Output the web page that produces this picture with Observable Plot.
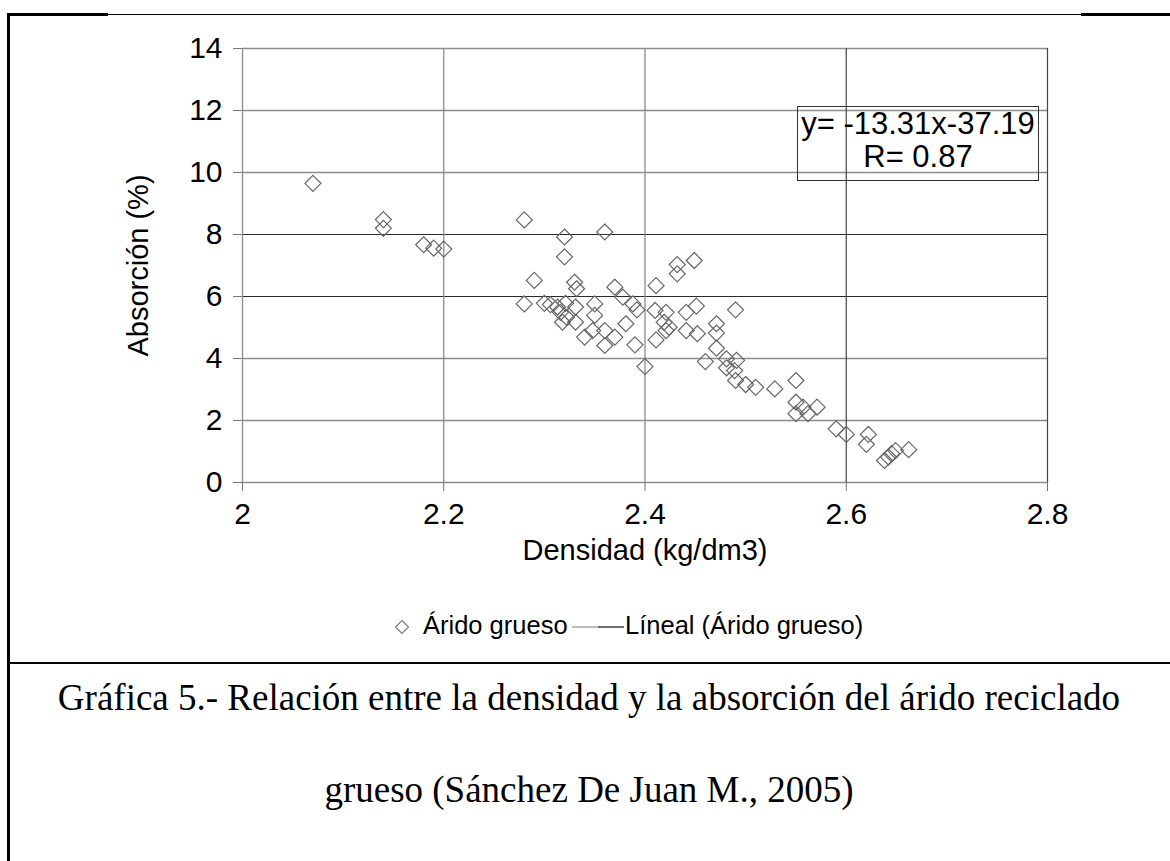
<!DOCTYPE html>
<html>
<head>
<meta charset="utf-8">
<script src="https://cdn.jsdelivr.net/npm/d3@7"></script>
<script src="https://cdn.jsdelivr.net/npm/@observablehq/plot@0.6"></script>
<style>
  html, body { margin: 0; padding: 0; background: #fff; }
  #page { position: relative; width: 1170px; height: 861px; overflow: hidden; background: #fff;
          font-family: "Liberation Sans", Arial, sans-serif; color: #000; }
  #page svg { position: absolute; left: 0; top: 0; }
  .rule { position: absolute; background: #000; }
  .abs { position: absolute; white-space: pre; }
  .caption { position: absolute; left: 8px; width: 1162px; text-align: center;
             font-family: "Liberation Serif", "Times New Roman", serif; font-size: 37px; line-height: 44px; }
</style>
</head>
<body>
<div id="page"></div>
<script>
// ---- data ----
const densidad = [
  2.07, 2.14, 2.14, 2.18, 2.19, 2.20, 2.28, 2.32, 2.36, 2.32,
  2.29, 2.33, 2.332, 2.37, 2.378, 2.388, 2.392, 2.28, 2.30, 2.306,
  2.313, 2.321, 2.316, 2.322, 2.318, 2.331, 2.331, 2.35, 2.35, 2.34,
  2.348, 2.36, 2.37, 2.36, 2.381, 2.39, 2.40, 2.411, 2.41, 2.421,
  2.419, 2.424, 2.421, 2.411, 2.432, 2.432, 2.449, 2.441, 2.451, 2.441,
  2.452, 2.49, 2.471, 2.471, 2.471, 2.46, 2.481, 2.491, 2.481, 2.489,
  2.49, 2.50, 2.51, 2.529, 2.55, 2.55, 2.55, 2.557, 2.562, 2.571,
  2.59, 2.60, 2.622, 2.62, 2.638, 2.642, 2.645, 2.649, 2.662
];
const absorcion = [
  9.65, 8.48, 8.20, 7.67, 7.56, 7.53, 8.47, 7.92, 8.08, 7.28,
  6.52, 6.46, 6.25, 6.30, 5.98, 5.76, 5.57, 5.76, 5.78, 5.74,
  5.66, 5.78, 5.49, 5.33, 5.17, 5.66, 5.17, 5.76, 5.39, 4.69,
  4.90, 4.90, 4.69, 4.42, 5.12, 4.44, 3.74, 6.35, 5.55, 5.49,
  5.17, 5.01, 4.90, 4.60, 7.03, 6.73, 7.16, 5.49, 5.69, 4.90,
  4.80, 5.57, 5.12, 4.82, 4.33, 3.90, 3.99, 3.94, 3.70, 3.61,
  3.29, 3.16, 3.07, 3.02, 3.29, 2.59, 2.22, 2.43, 2.22, 2.43,
  1.73, 1.55, 1.55, 1.23, 0.71, 0.82, 0.93, 1.03, 1.06
];
const xTicks = [2, 2.2, 2.4, 2.6, 2.8];
const xTickLabels = ["2", "2.2", "2.4", "2.6", "2.8"];
const yTicks = [0, 2, 4, 6, 8, 10, 12, 14];
const yTickLabels = ["0", "2", "4", "6", "8", "10", "12", "14"];
const xTitle = "Densidad (kg/dm3)";
const yTitle = "Absorción (%)";
const legendLabels = ["Árido grueso", "Líneal (Árido grueso)"];
const equationLines = ["y= -13.31x-37.19", "R= 0.87"];
const captionLines = [
  "Gráfica 5.- Relación entre la densidad y la absorción del árido reciclado",
  "grueso (Sánchez De Juan M., 2005)"
];

// ---- build ----
const points = densidad.map((x, i) => ({x, y: absorcion[i]}));
const xLabel = new Map(xTicks.map((t, i) => [t, xTickLabels[i]]));
const yLabel = new Map(yTicks.map((t, i) => [t, yTickLabels[i]]));
const darkY = [6, 8];
const lightY = yTicks.filter(t => !darkY.includes(t));
const darkX = [2.6, 2.8];
const lightX = xTicks.filter(t => !darkX.includes(t));

const page = document.getElementById("page");

const chart = Plot.plot({
  width: 1170,
  height: 580,
  marginLeft: 242,
  marginRight: 123,
  marginTop: 48,
  marginBottom: 98,
  x: {domain: [2, 2.8]},
  y: {domain: [0, 14]},
  style: {fontFamily: "'Liberation Sans', Arial, sans-serif", background: "transparent", color: "#000"},
  marks: [
    Plot.gridY(lightY, {stroke: "#8c8c8c", strokeOpacity: 1, strokeWidth: 1.3}),
    Plot.gridY(darkY, {stroke: "#2a2a2a", strokeOpacity: 1, strokeWidth: 1.2}),
    Plot.gridX(lightX, {stroke: "#8c8c8c", strokeOpacity: 1, strokeWidth: 1.3}),
    Plot.gridX(darkX, {stroke: "#444", strokeOpacity: 1, strokeWidth: 1.2}),
    Plot.axisX(xTicks, {tickSize: 9, tickPadding: 11, fontSize: 30, stroke: "#777",
                        tickFormat: d => xLabel.get(d), label: null}),
    Plot.axisY(yTicks, {tickSize: 9, tickPadding: 11, fontSize: 30, stroke: "#777",
                        tickFormat: d => yLabel.get(d), label: null}),
    Plot.text([yTitle], {frameAnchor: "left", rotate: -90, dx: -104, fontSize: 29,
                         text: d => d, textAnchor: "middle", lineAnchor: "middle"}),
    Plot.text([xTitle], {frameAnchor: "bottom", dy: 68, fontSize: 29,
                         text: d => d, textAnchor: "middle", lineAnchor: "middle"}),
    Plot.dot(points, {x: "x", y: "y", symbol: "diamond2", r: 7.2, stroke: "#666",
                      strokeWidth: 1.2, fill: "none"})
  ]
});
page.appendChild(chart);

// equation box (annotation inside plot)
const box = document.createElement("div");
box.className = "abs";
Object.assign(box.style, {left: "797px", top: "106px", width: "242px", height: "75px",
  boxSizing: "border-box", border: "1px solid #333"});
equationLines.forEach((t, i) => {
  const s = document.createElement("div");
  s.className = "abs";
  s.textContent = t;
  Object.assign(s.style, {left: "-1px", width: "242px", textAlign: "center",
    top: (i === 0 ? 0 : 33) + "px", fontSize: "31px", lineHeight: "34px"});
  box.appendChild(s);
});
page.appendChild(box);

// legend
const ns = "http://www.w3.org/2000/svg";
const leg = document.createElementNS(ns, "svg");
leg.setAttribute("width", 16); leg.setAttribute("height", 16);
leg.style.left = "394px"; leg.style.top = "619px";
const poly = document.createElementNS(ns, "polygon");
poly.setAttribute("points", "8,1.5 14.5,8 8,14.5 1.5,8");
poly.setAttribute("fill", "none"); poly.setAttribute("stroke", "#777"); poly.setAttribute("stroke-width", "1.1");
leg.appendChild(poly);
page.appendChild(leg);

const legLine = document.createElementNS(ns, "svg");
legLine.setAttribute("width", 52); legLine.setAttribute("height", 4);
legLine.style.left = "572px"; legLine.style.top = "625px";
[["0", "26", "#9a9a9a"], ["26", "52", "#222"]].forEach(([a, b, c]) => {
  const l = document.createElementNS(ns, "line");
  l.setAttribute("x1", a); l.setAttribute("x2", b); l.setAttribute("y1", 2); l.setAttribute("y2", 2);
  l.setAttribute("stroke", c); l.setAttribute("stroke-width", 1.3);
  legLine.appendChild(l);
});
page.appendChild(legLine);

[[423, legendLabels[0]], [625, legendLabels[1]]].forEach(([x, t]) => {
  const s = document.createElement("div");
  s.className = "abs";
  s.textContent = t;
  Object.assign(s.style, {left: x + "px", top: "610px", fontSize: "25.5px", lineHeight: "30px"});
  page.appendChild(s);
});

// frame rules (document table borders)
[
  [8, 14, 1162, 1],
  [7, 13, 101, 3],
  [1081, 13, 89, 3],
  [7, 13, 3, 848],
  [7, 662, 1163, 2]
].forEach(([l, t, w, h]) => {
  const r = document.createElement("div");
  r.className = "rule";
  Object.assign(r.style, {left: l + "px", top: t + "px", width: w + "px", height: h + "px"});
  page.appendChild(r);
});

// caption
captionLines.forEach((t, i) => {
  const c = document.createElement("div");
  c.className = "caption";
  c.textContent = t;
  c.style.top = (i === 0 ? 676 : 768) + "px";
  page.appendChild(c);
});
</script>
</body>
</html>
